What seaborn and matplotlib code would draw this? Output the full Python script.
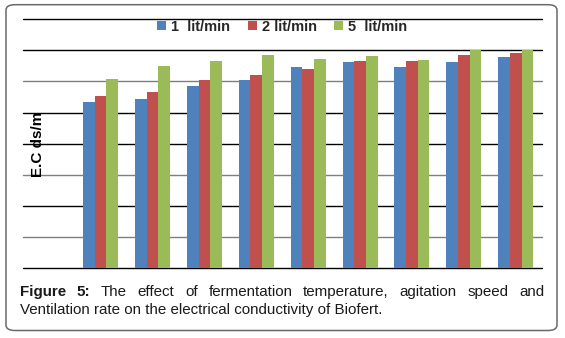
import numpy as np
import pandas as pd
import matplotlib
matplotlib.use("Agg")
import matplotlib.pyplot as plt
from matplotlib.patches import FancyBboxPatch
import seaborn as sns

# ---- data ----
groups = ["1", "2", "3", "4", "5", "6", "7", "8", "9"]
series_names = ["1  lit/min", "2 lit/min", "5  lit/min"]
flow_1 = [5.34, 5.44, 5.84, 6.05, 6.46, 6.63, 6.47, 6.63, 6.79]
flow_2 = [5.53, 5.66, 6.05, 6.21, 6.40, 6.66, 6.66, 6.85, 6.92]
flow_5 = [6.08, 6.50, 6.66, 6.85, 6.72, 6.82, 6.69, 7.01, 7.01]
y_levels = [0, 1, 2, 3, 4, 5, 6, 7, 8]
ylabel = "E.C ds/m"
caption_l1 = "The effect of fermentation temperature, agitation speed and"
caption_l2 = "Ventilation rate on the electrical conductivity of Biofert."

colors = ["#4F81BD", "#C0504D", "#9BBB59"]
grid_colors = ["#000000", "#7f7f7f", "#000000", "#7f7f7f", "#000000",
               "#000000", "#7f7f7f", "#000000", "#000000"]

df = pd.DataFrame({
    "group": groups * 3,
    "series": [series_names[0]] * 9 + [series_names[1]] * 9 + [series_names[2]] * 9,
    "value": flow_1 + flow_2 + flow_5,
})

sns.set_theme(style="white")
plt.rcParams["font.family"] = ["Liberation Sans", "DejaVu Sans"]

W, H = 565, 338
fig = plt.figure(figsize=(W / 100, H / 100), dpi=100)
fig.patch.set_facecolor("white")

# rounded border
bx0, by0, bx1, by1 = 6, 4.7, 557, 330.5
border = FancyBboxPatch((bx0 / W, 1 - by1 / H), (bx1 - bx0) / W, (by1 - by0) / H,
                        boxstyle="round,pad=0,rounding_size=0.016",
                        transform=fig.transFigure, facecolor="none",
                        edgecolor="#6a6a6a", linewidth=1.1)
fig.patches.append(border)

ax_l, ax_r, ax_t, ax_b = 22.7, 541.7, 19.3, 268
ax = fig.add_axes([ax_l / W, 1 - ax_b / H, (ax_r - ax_l) / W, (ax_b - ax_t) / H])

order = [" "] + groups
sns.barplot(data=df, x="group", y="value", hue="series", order=order,
            hue_order=series_names, palette=colors, width=0.674,
            saturation=1, ax=ax, errorbar=None, linewidth=0, zorder=3)

ax.set_ylim(0, 8)
ax.set_xlim(-0.5, 9.5)
for lvl, c in zip(y_levels, grid_colors):
    ax.axhline(lvl, color=c, linewidth=1.0, zorder=1, clip_on=False)
ax.set_xticks([])
ax.set_yticks([])
ax.set_xlabel("")
ax.set_ylabel("")
for s in ["top", "right", "left", "bottom"]:
    ax.spines[s].set_visible(False)
ax.set_facecolor("none")

# y label placed inside like reference
fig.text(37.5 / W, 1 - 144 / H, ylabel, rotation=90, ha="center", va="center",
         fontsize=11, fontweight="bold", color="black")

leg_fs = 10.5
ax.legend(loc="center", bbox_to_anchor=(0.5, (ax_b - 26.7) / (ax_b - ax_t)),
          ncol=3, frameon=False, handlelength=0.62, handleheight=0.62,
          handletextpad=0.34, columnspacing=1.2,
          prop={"weight": "bold", "size": leg_fs})

# caption: fit line 2 width, justify line 1
renderer = fig.canvas.get_renderer()
cap_color = "#1a1a1a"

def measure(s, size, weight="normal"):
    t = fig.text(0, 0, s, fontsize=size, fontweight=weight)
    w = t.get_window_extent(renderer).width
    t.remove()
    return w

x0, x1 = 20, 544
target_l2 = 365
cap_size = 10.0 * target_l2 / measure(caption_l2, 10.0)
cap_size = min(cap_size, 11.0)

words1 = [("Figure", "bold"), ("5:", "bold")] + [(w, "normal") for w in caption_l1.split()]
widths = [measure(w, cap_size, wt) for w, wt in words1]
gap = (x1 - x0 - sum(widths)) / (len(words1) - 1)
x = x0
for (w, wt), wd in zip(words1, widths):
    fig.text(x / W, 1 - 295.7 / H, w, fontsize=cap_size, fontweight=wt,
             color=cap_color, va="baseline", ha="left")
    x += wd + gap
fig.text(x0 / W, 1 - 314 / H, caption_l2, fontsize=cap_size, color=cap_color,
         va="baseline", ha="left")

fig.savefig("out.png", dpi=100)
